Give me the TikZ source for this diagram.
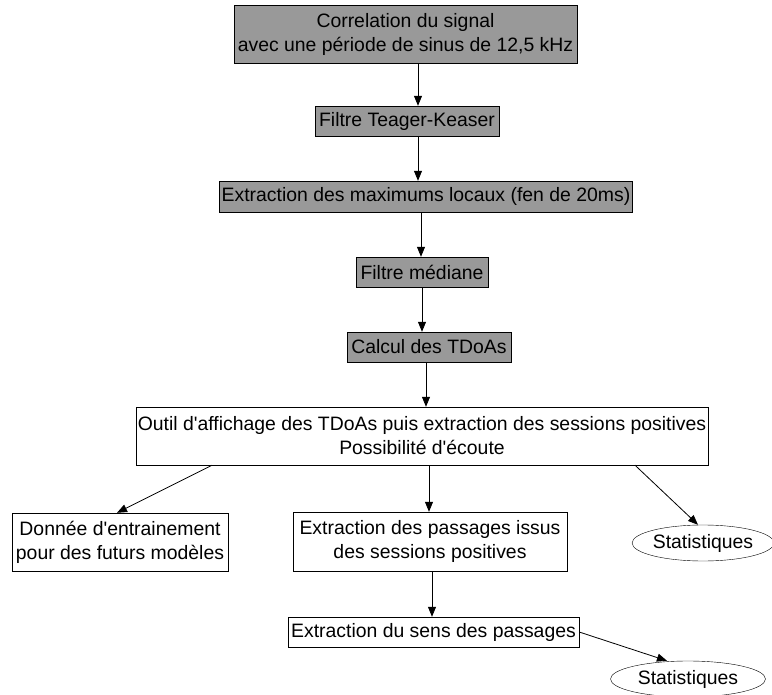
\documentclass[tikz,border=0pt]{standalone}
\usepackage{fontspec}
\setmainfont{Liberation Sans}
\usetikzlibrary{shapes,arrows.meta,positioning}

\begin{document}
\begin{tikzpicture}[
        x=1pt, y=-1pt,
        font=\fontsize{19.4}{24}\selectfont,
        graybox/.style={rectangle, draw=black, fill=black!40, inner sep=2pt, align=center},
        whitebox/.style={rectangle, draw=black, fill=white, inner sep=2pt, align=center},
        stat/.style={ellipse, draw=black, fill=white, inner sep=0pt, minimum width=140pt, minimum height=36pt},
        flow/.style={-{Triangle[length=10pt,width=8pt]}, thick}
    ]
    \useasboundingbox (0,0) rectangle (772,695);

    % Traitement du signal
    \node[graybox, minimum width=343pt, minimum height=58pt] (corr) at (405.5,34) {Correlation du signal\\avec une période de sinus de 12,5 kHz};
    \node[graybox, minimum width=184pt, minimum height=30pt] (teager) at (407,121) {Filtre Teager-Keaser};
    \node[graybox, minimum width=412pt, minimum height=31pt] (maxloc) at (426,196.5) {Extraction des maximums locaux (fen de 20ms)};
    \node[graybox, minimum width=132pt, minimum height=30pt] (median) at (422,272) {Filtre médiane};
    \node[graybox, minimum width=164pt, minimum height=30pt] (tdoa) at (429,347) {Calcul des TDoAs};

    % Outil et sorties
    \node[whitebox, minimum width=572pt, minimum height=58pt] (outil) at (422,436) {Outil d\textquotesingle affichage des TDoAs puis extraction des sessions positives\\Possibilité d\textquotesingle écoute};
    \node[whitebox, minimum width=216pt, minimum height=58pt] (donnee) at (120,542) {Donnée d\textquotesingle entrainement\\pour des futurs modèles};
    \node[whitebox, minimum width=274pt, minimum height=59pt] (passages) at (430,541.5) {Extraction des passages issus\\des sessions positives};
    \node[stat] (stat1) at (703,543) {Statistiques};
    \node[whitebox, minimum width=291pt, minimum height=30pt] (sens) at (433.5,632) {Extraction du sens des passages};
    \node[stat, minimum width=155pt] (stat2) at (688,679) {Statistiques};

    % Connections
    \draw[flow] ([xshift=12.5pt]corr.south) -- ([xshift=11pt]teager.north);
    \draw[flow] ([xshift=11pt]teager.south) -- ([xshift=-8pt]maxloc.north);
    \draw[flow] ([xshift=-5pt]maxloc.south) -- ([xshift=-1pt]median.north);
    \draw[flow] (median.south) -- ([xshift=-7pt]tdoa.north);
    \draw[flow] ([xshift=-3pt]tdoa.south) -- ([xshift=4pt]outil.north);
    \draw[flow] ([xshift=-210pt]outil.south) -- ([xshift=-3pt]donnee.north);
    \draw[flow] ([xshift=7pt]outil.south) -- ([xshift=-1pt]passages.north);
    \draw[flow] ([xshift=213pt]outil.south) -- ([xshift=-5pt]stat1.north);
    \draw[flow] ([xshift=2pt]passages.south) -- ([xshift=-1.5pt]sens.north);
    \draw[flow] (sens.east) -- ([xshift=-21pt]stat2.north);

\end{tikzpicture}
\end{document}
